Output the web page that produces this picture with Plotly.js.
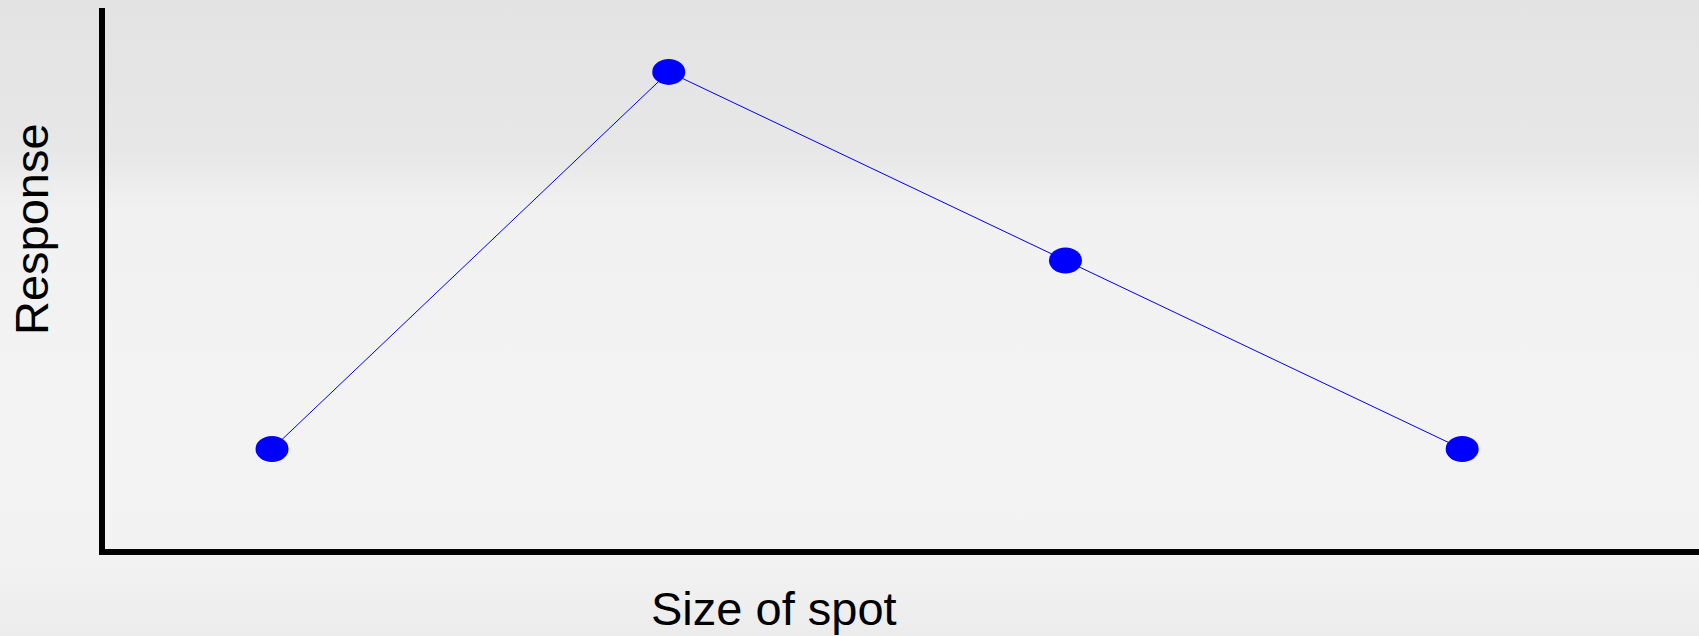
<!DOCTYPE html>
<html>
<head>
<meta charset="utf-8">
<script src="https://cdn.plot.ly/plotly-3.0.1.min.js"></script>
<style>
  html, body { margin: 0; padding: 0; }
  body {
    width: 1699px; height: 636px; overflow: hidden;
    background: linear-gradient(to bottom, #e3e3e3 0px, #e7e7e7 150px, #f1f1f1 210px, #f3f3f3 420px, #f2f2f2 560px, #ececec 636px);
  }
  #chart { width: 1699px; height: 636px; }
</style>
</head>
<body>
<div id="chart"></div>
<script>
// Data (qualitative response vs. size of spot)
const spotSize = [1, 2, 3, 4];
const response = [1, 3, 2, 1];
const xTitle = "Size of spot";
const yTitle = "Response";

const trace = {
  x: spotSize,
  y: response,
  type: "scatter",
  mode: "lines",
  line: { color: "#0000ff", width: 1 },
  hoverinfo: "skip",
  showlegend: false
};

// Elliptical markers anchored at each data point (sized in pixels)
const markerShapes = spotSize.map((xv, i) => ({
  type: "circle",
  xref: "x", yref: "y",
  xsizemode: "pixel", ysizemode: "pixel",
  xanchor: xv, yanchor: response[i],
  x0: -16.5, x1: 16.5, y0: -13, y1: 13,
  fillcolor: "#0000ff",
  line: { width: 0 },
  layer: "above"
}));

const layout = {
  width: 1699, height: 636,
  margin: { l: 105, r: 0, t: 8, b: 87, autoexpand: false },
  paper_bgcolor: "rgba(0,0,0,0)",
  plot_bgcolor: "rgba(0,0,0,0)",
  font: { family: "Liberation Sans, Arial, sans-serif", color: "#000000", size: 47 },
  xaxis: {
    range: [0.579, 4.597],
    showline: true, linecolor: "#000000", linewidth: 6,
    showgrid: false, zeroline: false, showticklabels: false, ticks: ""
  },
  yaxis: {
    range: [0.4695, 3.339],
    showline: true, linecolor: "#000000", linewidth: 6,
    showgrid: false, zeroline: false, showticklabels: false, ticks: ""
  },
  annotations: [
    { text: xTitle, xref: "paper", yref: "paper", x: 0.4197, y: -0.1109,
      xanchor: "center", yanchor: "middle", showarrow: false,
      font: { size: 47, color: "#000000" } },
    { text: yTitle, xref: "paper", yref: "paper", x: -0.0458, y: 0.5915,
      xanchor: "center", yanchor: "middle", showarrow: false, textangle: -90,
      font: { size: 47, color: "#000000" } }
  ],
  shapes: markerShapes
};

Plotly.newPlot("chart", [trace], layout, { staticPlot: true, displayModeBar: false });
</script>
</body>
</html>
